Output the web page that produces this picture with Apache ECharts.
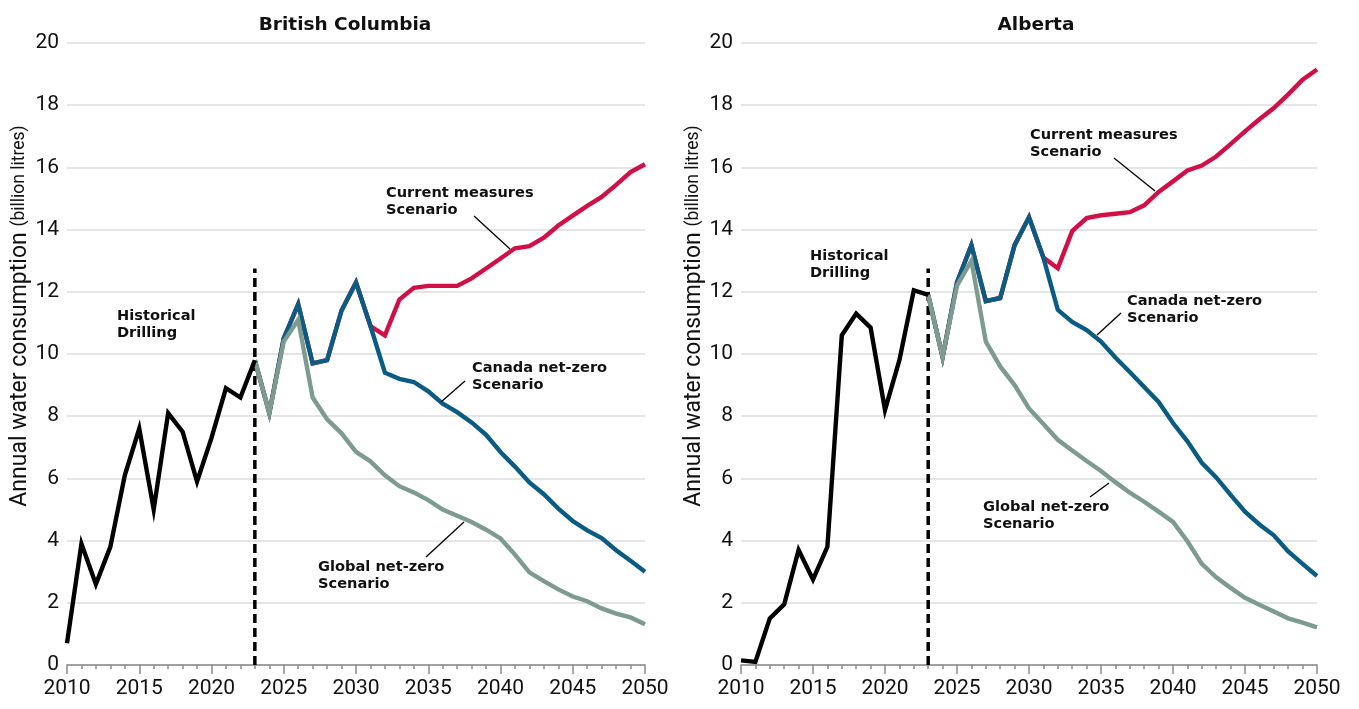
<!DOCTYPE html>
<html><head><meta charset="utf-8">
<script src="https://cdn.jsdelivr.net/npm/echarts@6/dist/echarts.min.js"></script>
<style>html,body{margin:0;padding:0;background:#fff}#c{width:1359px;height:709px}</style>
</head><body><div id="c"></div>
<script>
const panelTitles = ['British Columbia', 'Alberta'];
const histYears = [2010,2011,2012,2013,2014,2015,2016,2017,2018,2019,2020,2021,2022,2023];
const projYears = [2023,2024,2025,2026,2027,2028,2029,2030,2031,2032,2033,2034,2035,2036,2037,2038,2039,2040,2041,2042,2043,2044,2045,2046,2047,2048,2049,2050];
const xTicks = [2010,2015,2020,2025,2030,2035,2040,2045,2050];
const yTicks = [0,2,4,6,8,10,12,14,16,18,20];

// British Columbia
const bcHistorical = [0.7,3.9,2.6,3.8,6.1,7.6,5.0,8.1,7.5,5.9,7.3,8.9,8.6,9.8];
const bcCurrent = [9.8,8.1,10.5,11.6,9.7,9.8,11.4,12.3,10.9,10.6,11.75,12.13,12.19,12.19,12.19,12.43,12.75,13.07,13.4,13.47,13.74,14.13,14.45,14.76,15.05,15.44,15.85,16.1];
const bcCanada = [9.8,8.1,10.5,11.6,9.7,9.8,11.4,12.3,10.9,9.4,9.2,9.1,8.8,8.4,8.13,7.8,7.4,6.85,6.38,5.87,5.49,5.03,4.63,4.33,4.08,3.69,3.35,3.0];
const bcGlobal = [9.8,8.1,10.4,11.1,8.6,7.9,7.45,6.85,6.55,6.1,5.75,5.55,5.3,5.0,4.8,4.6,4.35,4.07,3.55,2.98,2.7,2.43,2.2,2.05,1.82,1.65,1.53,1.31];

// Alberta
const abHistorical = [0.15,0.1,1.5,1.95,3.7,2.75,3.8,10.6,11.3,10.85,8.2,9.8,12.05,11.9];
const abCurrent = [11.9,9.9,12.3,13.5,11.7,11.8,13.5,14.4,13.1,12.76,13.95,14.37,14.46,14.51,14.56,14.78,15.21,15.55,15.9,16.06,16.35,16.75,17.16,17.55,17.91,18.35,18.82,19.15];
const abCanada = [11.9,9.9,12.3,13.5,11.7,11.8,13.5,14.4,13.1,11.42,11.03,10.77,10.4,9.89,9.42,8.94,8.46,7.78,7.19,6.5,6.03,5.47,4.93,4.52,4.17,3.65,3.25,2.86];
const abGlobal = [11.9,9.9,12.2,13.0,10.4,9.6,9.0,8.25,7.75,7.24,6.9,6.56,6.24,5.88,5.54,5.25,4.93,4.6,3.98,3.25,2.82,2.48,2.16,1.94,1.72,1.5,1.36,1.21];

const dividerYear = 2023;
const dividerTop = 12.75;

const annotations = [
  ['Historical', 'Drilling'],
  ['Current measures', 'Scenario'],
  ['Canada net-zero', 'Scenario'],
  ['Global net-zero', 'Scenario']
];

const C_BLACK = '#000000', C_RED = '#d20f46', C_BLUE = '#0b5c84', C_GREEN = '#7d9b8f';
const FONT = 'Roboto, "DejaVu Sans", sans-serif';
const BOLD = '"DejaVu Sans", Roboto, sans-serif';

function pairs(xs, ys){ return xs.map((x,i)=>[x, ys[i]]); }

const grids = [
  {left: 67, right: 714, top: 43, bottom: 44},
  {left: 741, right: 42, top: 43, bottom: 44}
];

function xAx(i){
  return {
    gridIndex: i, type: 'value', min: 2010, max: 2050, interval: 5,
    axisLine: {show: true, lineStyle: {color: '#8a8a8a', width: 1.5}},
    axisTick: {show: true, length: 9, lineStyle: {color: '#8a8a8a', width: 1.5}},
    minorTick: {show: true, splitNumber: 5, length: 4, lineStyle: {color: '#8a8a8a', width: 1.5}},
    splitLine: {show: false},
    axisLabel: {fontFamily: FONT, fontSize: 21, color: '#111', margin: 13, formatter: v => String(v)}
  };
}
function yAx(i){
  return {
    gridIndex: i, type: 'value', min: 0, max: 20, interval: 2,
    axisLine: {show: false}, axisTick: {show: false},
    splitLine: {show: true, lineStyle: {color: '#dcdcdc', width: 1.5}},
    axisLabel: {fontFamily: FONT, fontSize: 21, color: '#111', margin: 8}
  };
}
function line(name, i, data, color, z){
  return {name, type: 'line', xAxisIndex: i, yAxisIndex: i, data, showSymbol: false, symbol: 'none',
    lineStyle: {color, width: 4.4, join: 'miter', cap: 'butt'}, z, silent: true, animation: false};
}

const series = [];
const sets = [
  [bcHistorical, bcCurrent, bcCanada, bcGlobal],
  [abHistorical, abCurrent, abCanada, abGlobal]
];
sets.forEach((s, i) => {
  series.push({type: 'line', xAxisIndex: i, yAxisIndex: i, data: [[dividerYear, 0], [dividerYear, dividerTop]],
    symbol: 'none', lineStyle: {color: '#000', width: 3.5, type: [9, 5]}, z: 1, silent: true, animation: false});
  series.push(line('Current measures', i, pairs(projYears, s[1]), C_RED, 2));
  series.push(line('Canada net-zero', i, pairs(projYears, s[2]), C_BLUE, 3));
  series.push(line('Global net-zero', i, pairs(projYears, s[3]), C_GREEN, 4));
  series.push(line('Historical', i, pairs(histYears, s[0]), C_BLACK, 5));
});

function note(x, y, lines){
  return {type: 'text', x, y, z: 20, style: {text: lines.join('\n'), font: 'bold 14.6px ' + BOLD, fill: '#111', lineHeight: 17, textVerticalAlign: 'top'}};
}
function leader(x1, y1, x2, y2){
  return {type: 'line', z: 20, shape: {x1, y1, x2, y2}, style: {stroke: '#000', lineWidth: 1.3}};
}
function yName(x, y){
  return {type: 'text', x, y, rotation: Math.PI/2, z: 20,
    style: {text: '{a|Annual water consumption }{b|(billion litres)}', rich: {a: {fontFamily: FONT, fontSize: 23, fill: '#111'}, b: {fontFamily: FONT, fontSize: 17.5, fill: '#111'}},
      textAlign: 'center', textVerticalAlign: 'middle'}};
}

const graphic = [
  yName(20, 316), yName(694, 316),
  note(117, 308, annotations[0]),
  note(386, 185, annotations[1]), leader(474, 216, 510, 249),
  note(472, 360, annotations[2]), leader(465, 381, 441, 402),
  note(318, 559, annotations[3]), leader(426, 557, 464, 522),
  note(810, 248, annotations[0]),
  note(1030, 127, annotations[1]), leader(1114, 158, 1155, 191),
  note(1127, 293, annotations[2]), leader(1121, 313, 1097, 335),
  note(983, 499, annotations[3]), leader(1090, 497, 1109, 483)
];

const chart = echarts.init(document.getElementById('c'), null, {renderer: 'canvas'});
chart.setOption({
  animation: false,
  backgroundColor: '#fff',
  title: [
    {text: panelTitles[0], left: 340, top: 11, textAlign: 'center', textStyle: {fontFamily: BOLD, fontWeight: 'bold', fontSize: 18.5, color: '#111'}},
    {text: panelTitles[1], left: 1031, top: 11, textAlign: 'center', textStyle: {fontFamily: BOLD, fontWeight: 'bold', fontSize: 18.5, color: '#111'}}
  ],
  grid: grids,
  xAxis: [xAx(0), xAx(1)],
  yAxis: [yAx(0), yAx(1)],
  series,
  graphic
});
</script></body></html>
